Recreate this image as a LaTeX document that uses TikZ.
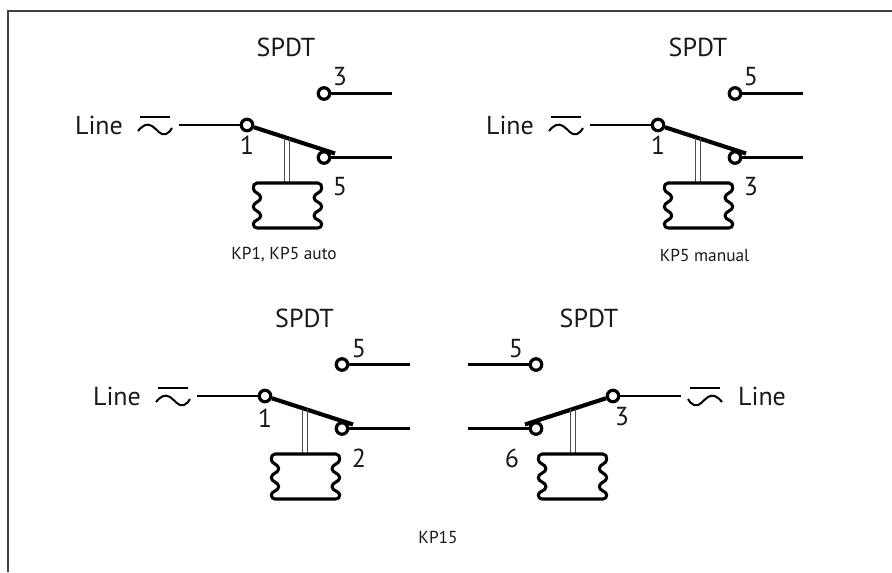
\documentclass[tikz,border=0pt]{standalone}
\usepackage{fontspec}
\setmainfont{PT Sans}
\tikzset{
  x=0.75pt,y=-0.75pt,
  contact/.style={circle,draw=black,line width=2.4pt,fill=white,minimum size=8.6pt,inner sep=0pt},
  wire/.style={line width=1.9pt,black},
  blade/.style={line width=3.1pt,black},
  rodline/.style={line width=0.8pt,black!70},
  bell/.style={line width=2.3pt,black,line cap=round,line join=round},
  tild/.style={line width=1.5pt,black},
  big/.style={font=\fontsize{19.5}{22}\selectfont,inner sep=0pt,text=black!90},
  small/.style={font=\fontsize{13}{15}\selectfont,inner sep=0pt,text=black!90},
  frameline/.style={line width=1pt,black!75}
}
% #1 name prefix, #2 x of pivot, #3 y of pivot, #4 direction (1 or -1)
\newcommand{\relayset}[4]{%
\begin{scope}[shift={(#2,#3)},xscale=#4]
  \coordinate (#1in) at (-68,0);
  \coordinate (#1upend) at (145,-31.5);
  \coordinate (#1loend) at (145,32.5);
  \coordinate (#1tip) at (88,28.5);
  \coordinate (#1rodtop) at (40,13);
  \coordinate (#1rodbot) at (40,58);
  \node[contact] (#1piv) at (0,0) {};
  \node[contact] (#1up) at (77,-31.5) {};
  \node[contact] (#1lo) at (77,32.5) {};
  \draw[wire] (#1in) -- (#1piv);
  \draw[wire] (#1up) -- (#1upend);
  \draw[wire] (#1lo) -- (#1loend);
  \draw[blade] (#1piv) -- (#1tip);
  \draw[rodline] ([xshift=-1.6pt]#1rodtop) -- ([xshift=-1.6pt]#1rodbot);
  \draw[rodline] ([xshift=1.6pt]#1rodtop) -- ([xshift=1.6pt]#1rodbot);
  \draw[bell] (10,58) -- (71,58)
     .. controls (74,58) and (74.7,60.5) .. (74.7,63.5)
     .. controls (74.7,68) and (67,68) .. (67,72.7)
     .. controls (67,77) and (74.7,77) .. (74.7,81.7)
     .. controls (74.7,86) and (67,86) .. (67,90.7)
     .. controls (67,95) and (74.7,95) .. (74.7,99)
     .. controls (74.7,101.5) and (73,103) .. (71,103)
     -- (10,103)
     .. controls (8,103) and (6.3,101.5) .. (6.3,99)
     .. controls (6.3,95) and (13.7,95) .. (13.7,90.7)
     .. controls (13.7,86) and (6.3,86) .. (6.3,81.7)
     .. controls (6.3,77) and (13.7,77) .. (13.7,72.7)
     .. controls (13.7,68) and (6.3,68) .. (6.3,63.5)
     .. controls (6.3,60.5) and (7,58) .. (10,58) -- cycle;
  \draw[tild] (-107,-8.5) -- (-77,-8.5);
  \draw[tild] (-109,6) .. controls (-104,0) and (-100,-2) .. (-95,1) .. controls (-90,4) and (-87,11) .. (-81,9) .. controls (-78,8) and (-76,5) .. (-75,3);
\end{scope}}
\begin{document}
\begin{tikzpicture}
\useasboundingbox (0,0) rectangle (892,572);
\coordinate (frameTR) at (892,11);
\coordinate (frameTL) at (8,11);
\coordinate (frameBL) at (8,572);
\draw[frameline] (frameTR) -- (frameTL) -- (frameBL);
\relayset{a}{247}{125}{1}
\relayset{b}{658}{125}{1}
\relayset{c}{265}{396}{1}
\relayset{d}{613}{396}{-1}
\node[big] (t1) at (286,47) {SPDT};
\node[big] (t2) at (698,47) {SPDT};
\node[big] (t3) at (304.5,318) {SPDT};
\node[big] (t4) at (589,318) {SPDT};
\node[big] (la) at (99,125.5) {Line};
\node[big] (lb) at (510,125.5) {Line};
\node[big] (lc) at (117,396.5) {Line};
\node[big] (ld) at (762,396.5) {Line};
\node[big] (a1) at (247,145) {1};
\node[big] (a3) at (340,77) {3};
\node[big] (a5) at (340,187) {5};
\node[big] (b1) at (658,145) {1};
\node[big] (b5) at (751,77) {5};
\node[big] (b3) at (751,187) {3};
\node[big] (c1) at (265,418) {1};
\node[big] (c5) at (359,349) {5};
\node[big] (c2) at (359,458) {2};
\node[big] (d5) at (516,349) {5};
\node[big] (d3) at (622,417) {3};
\node[big] (d6) at (512,458) {6};
\node[small] (ka) at (284,255) {KP1, KP5 auto};
\node[small] (kb) at (704.5,255) {KP5 manual};
\node[small] (kc) at (438,537) {KP15};
\end{tikzpicture}
\end{document}
